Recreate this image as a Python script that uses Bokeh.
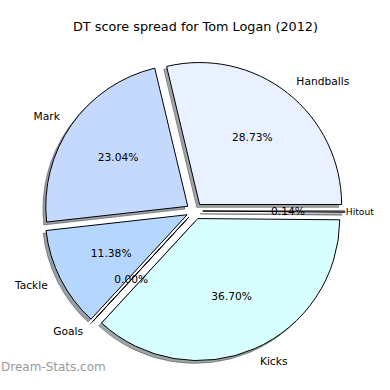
import math
from bokeh.plotting import figure
from bokeh.models import Range1d, ColumnDataSource
from bokeh.embed import file_html
from bokeh.resources import INLINE
from bokeh.core.properties import value

# ---- data -------------------------------------------------------------
categories = ["Handballs", "Mark", "Tackle", "Goals", "Kicks", "Hitout"]
shares = [28.73, 23.04, 11.38, 0.00, 36.70, 0.14]
colors = ["#e9f0ff", "#c5d9ff", "#b5d6ff", "#a9cfff", "#d8ffff", "#dce6ff"]
title_text = "DT score spread for Tom Logan (2012)"
watermark_text = "Dream-Stats.com"

# ---- layout constants (pixels) ----------------------------------------
W = H = 374
CX, CY = 194.0, 210.5          # pie centre
R = 142.0                      # pie radius in px
EXPLODE = 0.058 * R
SHADOW = 0.02 * R
LABEL_DIST = 1.1
PCT_DIST = 0.6
FONT = "DejaVu Sans"
FS_PX = 10.7
EM_W = 0.51                    # rough average glyph width (em) for fitting

x0, x1 = -CX, W - CX
y0, y1 = CY - H, CY

p = figure(width=W, height=H, output_backend="svg", toolbar_location=None,
           x_range=Range1d(x0, x1), y_range=Range1d(y0, y1),
           min_border=0, outline_line_color=None,
           background_fill_color="white", border_fill_color="white")
p.axis.visible = False
p.grid.visible = False

total = sum(shares)
theta = 0.0
wx, wy, st, en, fill, shade = [], [], [], [], [], []
lx, ly, ltxt, lalign, lsize = [], [], [], [], []
px, py, ptxt = [], [], []
for cat, s, c in zip(categories, shares, colors):
    span = 2 * math.pi * s / total
    start, end = theta, theta + span
    mid = (start + end) / 2
    theta = end
    ox, oy = EXPLODE * math.cos(mid), EXPLODE * math.sin(mid)
    wx.append(ox); wy.append(oy)
    st.append(start); en.append(max(end, start + 1e-4))
    fill.append(c)
    r_, g_, b_ = (int(c[i:i + 2], 16) for i in (1, 3, 5))
    shade.append("#%02x%02x%02x" % (int(r_ * 0.3), int(g_ * 0.3), int(b_ * 0.3)))
    tx = ox + LABEL_DIST * R * math.cos(mid)
    ty = oy + LABEL_DIST * R * math.sin(mid)
    align = "left" if tx > 0 else "right"
    fs = FS_PX
    if align == "left":
        est = len(cat) * EM_W * fs
        if tx + est > x1 - 1:
            # pull the label in to just past the wedge tip and shrink it to fit
            tx = min(tx, ox + R * math.cos(mid) + 1)
            fs = min(fs, (x1 - 0.5 - tx) / (len(cat) * EM_W))
    lx.append(tx); ly.append(ty); ltxt.append(cat); lalign.append(align)
    lsize.append("%.1fpx" % fs)
    px.append(ox + PCT_DIST * R * math.cos(mid))
    py.append(oy + PCT_DIST * R * math.sin(mid))
    ptxt.append("%1.2f%%" % (100.0 * s / total))

wsrc = ColumnDataSource(dict(x=wx, y=wy, sx=[v - SHADOW for v in wx], sy=[v - SHADOW for v in wy],
                             start=st, end=en, fill=fill, shade=shade))

# shadows first (under every wedge)
p.wedge(x="sx", y="sy", radius=R, start_angle="start", end_angle="end", source=wsrc,
        fill_color="shade", fill_alpha=0.5, line_color="shade", line_alpha=0.5, line_width=1)
p.wedge(x="x", y="y", radius=R, start_angle="start", end_angle="end", source=wsrc,
        fill_color="fill", line_color="black", line_width=1)

lsrc = ColumnDataSource(dict(x=lx, y=ly, text=ltxt, align=lalign, size=lsize))
p.text(x="x", y="y", text="text", source=lsrc, text_align="align", text_baseline="middle",
       text_font=value(FONT), text_font_size="size", text_color="black")
psrc = ColumnDataSource(dict(x=px, y=py, text=ptxt))
p.text(x="x", y="y", text="text", source=psrc, text_align="center", text_baseline="middle",
       text_font=value(FONT), text_font_size="%.1fpx" % FS_PX, text_color="black")

# title and watermark
p.text(x=[195 - CX], y=[CY - 25.5], text=[title_text], text_align="center", text_baseline="middle",
       text_font=value(FONT), text_font_size="12.8px", text_color="black")
p.text(x=[0.5 - CX], y=[CY - 366], text=[watermark_text], text_align="left",
       text_baseline="middle", text_font=value(FONT), text_font_size="12px", text_color="#9a9a9a")

open("out.html", "w").write(file_html(p, INLINE))
